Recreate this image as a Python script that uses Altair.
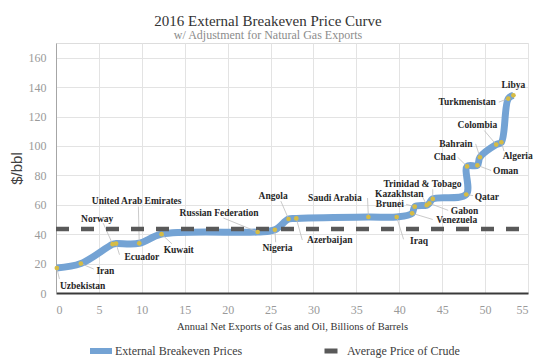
import altair as alt
import pandas as pd

# ---- data ----
countries = ["Uzbekistan", "Iran", "Norway", "Ecuador", "United Arab Emirates", "Kuwait",
             "Russian Federation", "Nigeria", "Angola", "Azerbaijan", "Saudi Arabia", "Iraq",
             "Venezuela", "Brunei", "Kazakhstan", "Gabon", "Trinidad & Tobago", "Qatar",
             "Chad", "Oman", "Bahrain", "Colombia", "Algeria", "Turkmenistan", "Libya"]
exports_cum = [0.1, 2.9, 6.6, 7.0, 9.7, 12.3, 23.5, 25.5, 27.1, 28.0, 36.4, 39.7,
               41.5, 41.8, 43.2, 43.5, 43.9, 47.8, 47.9, 49.1, 49.4, 51.3, 51.9, 52.7, 53.3]
breakeven = [17, 20, 33.2, 33.6, 33.8, 40, 41.5, 43, 50.3, 50.7, 51.7, 51.7,
             54.2, 58.7, 59.7, 61.0, 64.0, 67.0, 86.1, 86.8, 92.3, 100.9, 102.5, 132.2, 134.4]

# annotation anchors (data units)
label_x = [3.1, 5.75, 4.8, 10.0, 9.4, 14.3, 19.0, 25.8, 25.3, 31.9, 32.5, 42.3,
           46.7, 38.9, 40.0, 47.6, 42.7, 50.2, 45.3, 52.4, 46.6, 49.1, 53.8, 47.9, 53.3]
label_y = [5.0, 15.2, 50.5, 24.5, 62.8, 29.5, 54.4, 30.6, 66.0, 36.0, 64.6, 35.6,
           49.4, 60.5, 67.3, 56.0, 74.0, 65.3, 92.3, 82.7, 101.4, 114.0, 93.4, 129.7, 141.7]
leader_x = [0.4, 4.4, 5.5, 7.4, 9.6, 13.5, 19.5, 25.6, 26.2, 28.7, 36.3, 40.5,
            43.9, 40.8, 42.7, 45.7, 43.9, 48.6, 46.8, 50.7, 48.9, 49.9, 52.2, 51.6, None]
leader_y = [9.5, 16.3, 47.5, 26.0, 58.8, 33.5, 51.0, 34.5, 62.5, 36.0, 64.6, 36.5,
            50.0, 60.3, 65.5, 56.2, 70.5, 66.2, 92.3, 83.3, 101.4, 110.5, 96.5, 129.8, None]

crude_price = 43.5
crude_x = [0, 55]
x_ticks = list(range(0, 60, 5))
y_ticks = list(range(0, 180, 20))

series_main = "External Breakeven Prices"
series_crude = "Average Price of Crude"

# ---- tables ----
curve = pd.DataFrame({"country": countries, "x": exports_cum, "y": breakeven,
                      "idx": list(range(len(countries))), "series": series_main})
labels = pd.DataFrame({"country": countries, "x": label_x, "y": label_y})
leaders = pd.DataFrame({"x": exports_cum, "y": breakeven, "x2": leader_x, "y2": leader_y}).dropna()
crude = pd.DataFrame({"x": crude_x, "y": [crude_price] * len(crude_x), "series2": series_crude})

SERIF = "Liberation Serif"
BLUE = "#74a3d4"
GOLD = "#d6bc45"
DARK = "#595959"

xscale = alt.Scale(domain=[0, 55], nice=False, zero=False)
yscale = alt.Scale(domain=[0, 170], nice=False)

x_axis = alt.Axis(values=x_ticks, title="Annual Net Exports of Gas and Oil, Billions of Barrels",
                  grid=True, gridColor="#e3e3e3", ticks=False, tickSize=0, domainColor="#3a3a3a",
                  domainWidth=2, labelFont=SERIF, labelFontSize=12, labelColor="#9a9a9a",
                  labelPadding=11, labelOverlap=False, titleFont=SERIF, titleFontSize=10.5,
                  titleFontWeight="normal", titleColor="#333333", titlePadding=6)
y_axis = alt.Axis(values=y_ticks, title="$/bbl", grid=True, gridColor="#e3e3e3", ticks=False,
                  tickSize=0, domainColor="#a6a6a6", labelFont=SERIF, labelFontSize=12,
                  labelColor="#9a9a9a", labelPadding=10, labelOverlap=False,
                  titleFont="Liberation Sans", titleFontSize=15, titleFontWeight="normal",
                  titleColor="#404040", titlePadding=4)

X0 = alt.X("x:Q", scale=xscale, axis=x_axis)
Y0 = alt.Y("y:Q", scale=yscale, axis=y_axis)

base_line = alt.Chart(curve).mark_line(interpolate="catmull-rom", strokeWidth=7).encode(
    x=X0,
    y=Y0,
    order=alt.Order("idx:Q"),
    color=alt.Color("series:N", scale=alt.Scale(domain=[series_main], range=[BLUE]),
                    legend=alt.Legend(title=None, orient="none", legendX=31, legendY=294,
                                      symbolType="stroke", symbolSize=484, symbolStrokeWidth=6,
                                      labelFont=SERIF, labelFontSize=12, labelColor="#404040",
                                      labelOffset=0, padding=0)),
)

crude_line = alt.Chart(crude).mark_line(color=DARK, strokeWidth=4.5).encode(
    x=X0,
    y=Y0,
    strokeDash=alt.StrokeDash("series2:N",
                              scale=alt.Scale(domain=[series_crude], range=[[13, 12]]),
                              legend=alt.Legend(title=None, orient="none", legendX=266, legendY=298,
                                                symbolType="stroke", symbolSize=225,
                                                symbolStrokeWidth=5, symbolStrokeColor=DARK,
                                                labelFont=SERIF, labelFontSize=12,
                                                labelColor="#404040", labelOffset=5, padding=0)),
)

leader_rules = alt.Chart(leaders).mark_rule(color="#bdbdbd", strokeWidth=0.8).encode(
    x=X0, y=Y0, x2="x2:Q", y2="y2:Q")

dots = alt.Chart(curve).mark_point(filled=True, color=GOLD, size=22, opacity=1).encode(
    x=X0, y=Y0)

texts = alt.Chart(labels).mark_text(font=SERIF, fontSize=9.5, fontWeight="bold",
                                    color="#262626", align="center", baseline="middle").encode(
    x=X0, y=Y0, text="country:N")

chart = alt.layer(base_line, leader_rules, crude_line, dots, texts).properties(
    width=472, height=250,
    autosize=alt.AutoSizeParams(type="none"),
    padding={"left": 48, "top": 35, "right": 18, "bottom": 67},
    title=alt.Title("2016 External Breakeven Price Curve",
                    subtitle="w/ Adjustment for Natural Gas Exports",
                    font=SERIF, fontSize=15, fontWeight="normal", color="#333333",
                    subtitleFont=SERIF, subtitleFontSize=12, subtitleColor="#8c8c8c",
                    subtitlePadding=1, anchor="middle", frame="group", offset=2, dx=-24),
).configure_view(stroke=None).configure(background="white")

chart.save("out.html", embed_options={"renderer": "svg", "actions": False})
